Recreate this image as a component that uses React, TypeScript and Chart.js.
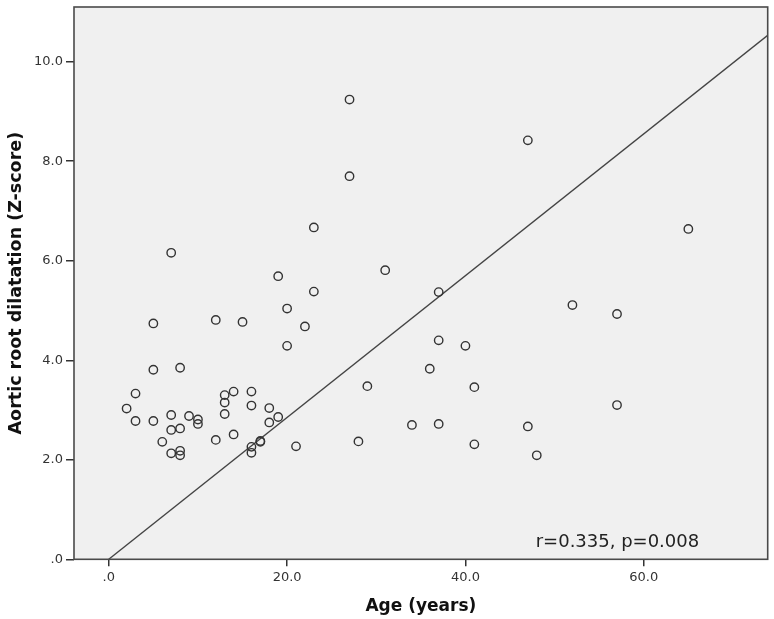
import React, { useEffect, useRef } from "react";
import { Chart, registerables } from "chart.js";

Chart.register(...registerables);

// Age (years)
const ages: number[] = [
  2, 3, 3, 5, 5, 5, 6, 7, 7, 7, 7, 8, 8, 8, 8, 9, 10, 10, 12, 12,
  13, 13, 13, 14, 14, 15, 16, 16, 16, 16, 17, 17, 18, 18, 19, 19, 20, 20, 21, 22,
  23, 23, 27, 27, 28, 29, 31, 34, 36, 37, 37, 37, 40, 41, 41, 47, 47, 48, 52, 57,
  57, 65,
];
// Aortic root dilatation (Z-score)
const zScores: number[] = [
  3.03, 3.33, 2.78, 4.74, 3.81, 2.78, 2.36, 6.16, 2.9, 2.6, 2.13, 3.85, 2.63, 2.18, 2.09, 2.88, 2.81, 2.72, 4.81, 2.4,
  3.3, 3.15, 2.92, 3.37, 2.51, 4.77, 3.37, 3.09, 2.26, 2.14, 2.36, 2.38, 3.04, 2.75, 5.69, 2.86, 5.04, 4.29, 2.27, 4.68,
  6.67, 5.38, 9.24, 7.7, 2.37, 3.48, 5.81, 2.7, 3.83, 5.37, 4.4, 2.72, 4.29, 3.46, 2.31, 8.42, 2.67, 2.09, 5.11, 4.93,
  3.1, 6.64,
];

const xTicks: number[] = [0, 20, 40, 60];
const yTicks: number[] = [0, 2, 4, 6, 8, 10];
const xMin = -3.9;
const xMax = 73.9;
const yMin = 0;
const yMax = 11.1;

// fit line as drawn in the figure
const fitIntercept = 0;
const fitSlope = 0.1425;
const fitXStart = 0;

const annotationText = "r=0.335, p=0.008";
const xTitle = "Age (years)";
const yTitle = "Aortic root dilatation (Z-score)";

const fmt = (v: number) => (v === 0 ? ".0" : v.toFixed(1));

export default function App() {
  const canvasRef = useRef<HTMLCanvasElement | null>(null);

  useEffect(() => {
    document.body.style.margin = "0";
    const canvas = canvasRef.current;
    if (!canvas) return;

    const framePlugin = {
      id: "frame",
      beforeDatasetsDraw(chart: any) {
        const { ctx, chartArea: a } = chart;
        ctx.save();
        ctx.fillStyle = "#f0f0f0";
        ctx.fillRect(a.left, a.top, a.right - a.left, a.bottom - a.top);
        ctx.restore();
      },
      afterDatasetsDraw(chart: any) {
        const { ctx, chartArea: a } = chart;
        ctx.save();
        ctx.strokeStyle = "#4a4a4a";
        ctx.lineWidth = 1.6;
        ctx.strokeRect(a.left, a.top, a.right - a.left, a.bottom - a.top);
        ctx.fillStyle = "#222";
        ctx.font = "18px 'DejaVu Sans'";
        ctx.textAlign = "left";
        ctx.textBaseline = "alphabetic";
        ctx.fillText(annotationText, a.right - 232, a.bottom - 12.6);
        ctx.restore();
      },
    };

    const scatterData = ages.map((x, i) => ({ x, y: zScores[i] }));
    const lineData = [
      { x: fitXStart, y: fitIntercept + fitSlope * fitXStart },
      { x: xMax, y: fitIntercept + fitSlope * xMax },
    ];

    const chart = new Chart(canvas, {
      type: "scatter",
      data: {
        datasets: [
          {
            type: "line",
            data: lineData,
            borderColor: "#444",
            borderWidth: 1.4,
            pointRadius: 0,
            fill: false,
            order: 2,
          } as any,
          {
            type: "scatter",
            data: scatterData,
            pointRadius: 4.2,
            pointBorderWidth: 1.4,
            pointBorderColor: "#333",
            pointBackgroundColor: "rgba(0,0,0,0)",
            borderColor: "#333",
            backgroundColor: "rgba(0,0,0,0)",
            order: 1,
          } as any,
        ],
      },
      options: {
        animation: false,
        responsive: true,
        maintainAspectRatio: false,
        layout: { padding: { left: 0, top: 7, right: 6.3, bottom: 0 } },
        plugins: {
          legend: { display: false },
          tooltip: { enabled: false },
        },
        scales: {
          x: {
            type: "linear",
            min: xMin,
            max: xMax,
            afterBuildTicks: (s: any) => {
              s.ticks = xTicks.map((v) => ({ value: v }));
            },
            afterFit: (s: any) => {
              s.height = 59.7;
              s.paddingLeft = 0;
              s.paddingRight = 0;
            },
            ticks: {
              callback: (v: any) => fmt(Number(v)),
              color: "#333",
              font: { family: "'DejaVu Sans'", size: 13 },
              padding: 4,
              maxRotation: 0,
              autoSkip: false,
            },
            grid: {
              drawOnChartArea: false,
              drawTicks: true,
              tickLength: 7,
              color: "#333",
              lineWidth: 1.5,
            },
            border: { display: false },
            title: {
              display: true,
              text: xTitle,
              color: "#111",
              font: { family: "'DejaVu Sans'", size: 17, weight: "bold" },
              padding: { top: 0, bottom: 2 },
            },
          },
          y: {
            type: "linear",
            min: yMin,
            max: yMax,
            afterBuildTicks: (s: any) => {
              s.ticks = yTicks.map((v) => ({ value: v }));
            },
            afterFit: (s: any) => {
              s.width = 74;
              s.paddingTop = 0;
              s.paddingBottom = 0;
            },
            ticks: {
              callback: (v: any) => fmt(Number(v)),
              color: "#333",
              font: { family: "'DejaVu Sans'", size: 13 },
              padding: 3,
              autoSkip: false,
            },
            grid: {
              drawOnChartArea: false,
              drawTicks: true,
              tickLength: 8,
              color: "#333",
              lineWidth: 1.5,
            },
            border: { display: false },
            title: {
              display: true,
              text: yTitle,
              color: "#111",
              font: { family: "'DejaVu Sans'", size: 17.5, weight: "bold" },
              padding: { top: 6, bottom: 0 },
            },
          },
        },
      } as any,
      plugins: [framePlugin],
    });

    return () => chart.destroy();
  }, []);

  return (
    <div style={{ width: 774, height: 619, position: "relative" }}>
      <canvas ref={canvasRef} />
    </div>
  );
}
